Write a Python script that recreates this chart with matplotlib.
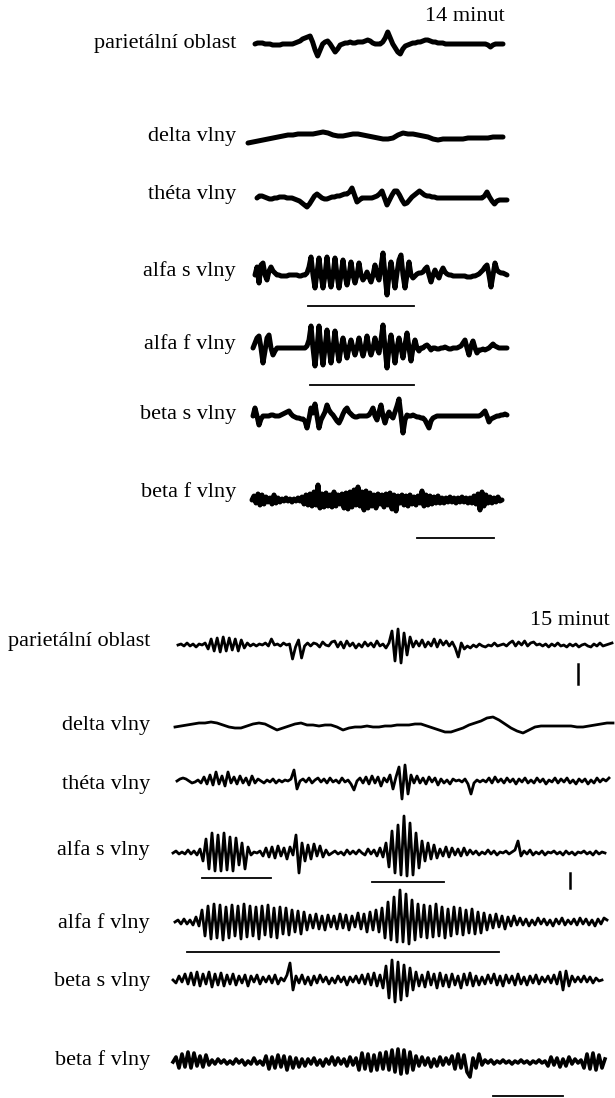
import numpy as np
import matplotlib
matplotlib.use("Agg")
import matplotlib.pyplot as plt

# traces, values in pixels above the baseline,
# samples evenly spaced along each trace

# ---- 14 minut ----
top_parietal = [0, 1, 1, 1, 0, 0, 0, -1, -1, -1, -1, 0, 0, 0, 0, 0, 1, 2, 3, 5,
                6, 7, 8, 2, -6, -12, -6, 0, 2, 3, 0, -4, -8, -5, -1, 0, 1, 1, 2, 1,
                1, 2, 2, 2, 3, 4, 3, 1, 0, 0, 0, 2, 6, 12, 6, 0, -4, -8, -10, -5,
                -2, -1, 0, 1, 1, 2, 2, 3, 4, 4, 3, 2, 2, 1, 1, 1, 0, 0, 0, 0,
                0, 0, 0, 0, 0, 0, 0, 0, 0, 0, 0, 0, 0, -1, -3, -1, 0, 0, 0, 0]
top_delta = [-6, -5, -4, -3, -2, -1, 0, 1, 2, 2, 3, 3, 3, 3, 4, 5, 4, 2, 1, 1,
             2, 3, 3, 2, 1, 0, -1, -2, -2, -1, 2, 4, 3, 3, 2, 1, 0, -2, -3, -2,
             -2, -2, -2, -2, -1, -1, -1, -1, -1, 0, 0, 0]
top_theta = [0, 2, 2, 1, 0, -1, -1, 0, 0, 1,
             1, 1, 0, 0, 0, -1, -2, -3, -5, -7,
             -9, -6, -2, 2, 4, 2, 0, -1, -1, 0,
             1, 1, 2, 2, 3, 4, 4, 6, 10, 3,
             -4, -2, 0, 0, 0, 0, 0, 1, 2, 4,
             7, 0, -7, -2, 3, 7, 7, 3, -2, -6,
             -5, -2, 1, 3, 5, 7, 5, 3, 2, 2,
             1, 1, 0, 0, 0, 0, 0, 0, 0, 0,
             0, 0, 0, 0, 0, 0, 0, 0, 0, 0,
             0, 2, 6, 1, -3, -6, -3, -2, -2, -2, -2]
top_alfa_s = [0, 8, -8, 10, 12, 0, -5, 4, 8, 4, 2,
              0, 0, -1, -1, -1, -1, 0, 0, 0, 0, 0, -1, -1, 0, 0, 2,
              8, 18, 0, -13, 2, 17, 0, -13, 0, 18, 0, -12, 0, 17, 0, -13, 0, 15,
              0, -10, 0, 13, 0, -8, 0, 12, 0, -5, -2, 3, -2, -7, 0, 10, 0, -5,
              8, 22, 0, -20, 0, 13, 0, -13, 2, 15, 20, 0, -13, 0, 13, 0, -3,
              -1, 1, 2, 2, 3, 6, 8, 0, -7, 0, 5, 0, -3, 3, 7, 3,
              1, 0, 0, -1, -1, -1, -1, -1, -1, -1, -2, -2, -2, -1, -1, 0, 1,
              3, 5, 8, 10, 0, -12, 0, 12, 5, 3, 2, 2, 1, 0]
top_alfa_f = [0, 5, 10, 12, 0, -15, -3, 10, 13, 0, -7, -3,
              0, 0, 0, 0, 0, 0, 0, 0, 0, 0, 0, 0, 0, 0, 0, 2, 8,
              22, 0, -18, 0, 22, 0, -17, 0, 18, 0, -15, 0, 17, 0, -13, 0, 10,
              0, -10, 0, 8, 0, -7, 0, 10, 0, -8, 0, 12, 0, -7, 0, 10, 0, -5,
              8, 23, 0, -20, 0, 13, 0, -15, 0, 10, 0, -10, 3, 15, 0, -13, 0,
              8, 0, -3, 0, 0, 2, 3, 1, -2,
              0, 0, -1, -1, 0, 0, 1, 0, -1, -1, 0, 0, 0, 1, 2,
              5, 8, 0, -7, 2, 7, 0, -5, -2, -2, -1, -2, -1, 0, 2, 4, 2, 1,
              0, 0, 0, 0, 0]
top_beta_s = [0, 8, 0, -9, -3,
              0, 0, 0, 0, 1, 1, 0, 0, 0, 1, 2, 3,
              4, 5, 2, 0, -1, -2, -2, -3, -3, -5, -12, -3, 8, 3, 12, 0, -12, -4,
              0, 4, 11, 6, 3, 1, -2, -5, -7, -3, 2, 6, 8, 4, 2, 0, -1, -1,
              0, 0, 0, 0, 0, 1, 4, 8, 0, -4, 4, 11, 0, -7, 0, 4, 0, -2, 4, 10,
              17, 0, -17, -4, 1, 0, 0, 1, 0, -1, -1, -2, -2, -4, -8, -12, -5,
              -2, -1,
              0, 0, 0, 0, 0, 0, 0, 0, 0, 0, 0, 0, 0, 0, 0, 0, 0, 0, 0, 0, 0, 0, 1,
              3, 5, 0, -6, -3, -2, -1, 0, 0, 1, 1, 2, 1]
top_beta_f = [0, 4, -3, 6, -5, 5, -4, 3, -2, 2, -4, 5, -3, 2, -2,
              1, -1, 2, -1, 1, -2, 1, -1, 2, -1,
              3, -4, 5, -5, 6, -6, 8, -5, 15, -8,
              6, -7, 7, -6, 5, -7, 8, -6, 5, -4,
              6, -8, 7, -9, 8, -7, 10, -5, 13, -6,
              8, -10, 9, -8, 7, -6, 5, -8, 6, -4,
              5, -7, 6, -5, 7, -9, 5, -11, 4, -3,
              5, -5, 4, -6, 5, -4, 3, -5, 4, -3,
              9, -6, 5, -5, 4, -4, 3, -3, 4, -3,
              2, -3, 2, -2, 3, -2, 2, -3, 2, -2,
              3, -2, 2, -3, 2, -3, 4, -4, 6, -10,
              8, -6, 5, -3, 3, -3, 2, -2, 3, -1, 0]

# ---- 15 minut ----
bot_parietal = [0, 1, -1, 2, -1, 1, -2, 1, 0, 2,
                -4, 6, -6, 7, -7, 8, -6, 7, -5, 6, -6, 5, -3, 2, -1,
                1, -1, 1, 0, 2, -1,
                6, 0, 1, -1, 2, 0, 1,
                -14, -2, 5, -13, -1,
                2, -1, 2, 1, -2, 3, 0, -1, 3,
                4, -2, 3, -3, 4, -1, 2,
                -3, 1, -2, 3, -1, 2, -2, 4, -1, 1, -3, 2,
                14, -16, 16, -18, 12, -10, 8,
                -2, 4, -1, 5, -2, 3, -1, 6, -2, 5, 0, 4, -1, 3,
                -3, -12, 2, -4,
                -1, -3, 0, -2, 1, -1, -2, 0, -1, 2, -1, 0, 1, -1, 2,
                4, -1, 3, 0, 4, -1, 2, 3, 0, 1, -1,
                1, -2, 1, -1, 2, -1, 0, -2, 1, -1, 1, -2, 0, 1, -1, -2, 1, -1, 2,
                -1, 0, 1, 2]
bot_delta = [-2, -1, 0, 1, 2, 2, 3, 2, 0, -2, -3, -3, -1, 1, 2, 1, -2, -5, -3, -1,
             1, 2, 0, 0, -1, 0, 0, -2, -5, -3, -2, -2, -1, -2, -2, -1, -1, 0, 0, 0,
             1, 1, -1, -3, -5, -7, -7, -5, -3, 0, 2, 4, 7, 8, 5, 1, -3, -6, -8, -5,
             -2, -1, -1, -1, -1, -1, -1, -2, -2, -1, 0, 1, 2, 2]
bot_theta = [0, 2, 3, 2, 0, -2, -1, 1,
             -2, 4, -3, 6, -4, 9, -3, 5, -5, 9, -2, 4, -3, 5, -2, 3, -4, 5, -2, 2,
             0, -2, 1, -1, 2, -2, 1, -1, 1, 0, 2,
             11, -8, 0,
             2, -1, 3, -2, 1, 3, -1, 2, -2, 3, -1, 1, -2, 3, -1, 1, -3,
             -9, 0,
             3, -2, 4, -3, 5, -2, 4, -5, 3, -1,
             6, -8, 4, 14, -18, 16, -13, 6, -2, 5,
             -2, 3, -3, 4, -1, 3, -4, 2, -2, 1, -3, 2, 0, 1, -1, 2, -3,
             -13, -2, 1,
             -1, 1, -1, 3, -2, 4,
             -1, 2, -2, 3, -1, 2, -3, 2, -1, 3, -2, 1, -2, 3, -1, 2, -3, 1, -1,
             3, -2, 2, -1, 3, -2, 1, -3, 2, -1, 2, -3, 1, -2, 3, -1, 2, 0, 3]
bot_alfa_s = [0, 2, -1, 1, -1, 3, -1, 2, -2, 4,
              -8, 14, -16, 20, -18, 18, -18, 20, -17, 16, -18, 15, -12, 10, -16, 6,
              -2, 1, 0, 2,
              -3, 5, -4, 6, -5, 7, -3, 5, -6, 6, -2,
              18, -20, 10, -8,
              8, -6, 9, -3, 7, -4, 3, -2,
              0, 2, -1, 1, -2, 3, -1, 2, -1, 3, 0,
              -2, 4, -1, 3, -3, 5, -4,
              10, -14, 22, -20, 28, -22, 37, -23, 30, -22, 20, -15,
              12, -8, 10, -6, 8, -5, 4,
              -3, 6, -4, 5, -2, 4, -3, 5, -2, 3,
              -1, 2, -2, 1, -1, 3, -1, 2, -2, 1, 0, 2, -1, 1, 3, 12,
              -3, 2, -1, 3, -2, 1, -1, 2, -2, 1, 0, 2, -1, 1, -2, 2, -1, 1, -2, 1,
              0, 2, -1, 1, -2, 2, -1, 1, 0]
bot_alfa_f = [0, 2, -2, 3, -2, 2, -3, 5, -4,
              12, -14, 16, -17, 18, -16, 17, -18, 15, -16, 17, -14, 16, -17, 18, -15,
              16, -14, 15, -17, 16, -13, 17, -15, 14, -16, 15, -12, 14, -13, 12, -10,
              11, -12, 10, -8, 7,
              -6, 8, -7, 6, -8, 7, -5, 6, -7, 8, -6, 7, -8, 6, -5, 9, -7, 8, -10, 10,
              -8, 12, -10, 14,
              -16, 20, -18, 25, -20, 32, -20, 28, -22, 22, -18, 18,
              -15, 17, -16, 16, -15, 18, -14, 15, -16, 13, -14, 15, -12, 14, -13, 12,
              -11, 13, -12, 10, -11, 9,
              -8, 7, -6, 8, -5, 6, -7, 5, -4, 6, -3,
              4, -3, 3, -4, 2, -3, 4, -2, 3, -3, 2, -4, 3, -2, 4, -3, 2, -2, 3, -3,
              4, -2, 3, -3, 2, -4, 3, -2, 4, 2]
bot_beta_s = [0, -3, 4, -2, 6, -4, 7, -5, 8, -6, 6, -4, 8, -7, 6, -5, 7, -6, 5, -4,
              6, -5, 4, -3, 5, -6, 4, -2, 5, -4, 3, -2, 4, -3, 5, -4, 2,
              -1, 5, 17, -10, 4, -3,
              5, -4, 3, -5, 4, -3, 5, -2, 3, -4, 2, -3, 4, -2, 3, -5, 3, -2, 4, -3,
              5, -4, 6, -5, 7, -6, 5,
              -8, 14, -18, 20, -22, 18, -20, 15, -16, 12, -10,
              8, -6, 5, -7, 8, -5, 6, -8, 7, -6, 5, -7, 6, -5, 4, -8, 6, -5, 7, -6,
              4, -5, 3,
              -4, 5, -3, 6, -5, 4, -6, 5, -3, 4, -5, 6, -4, 3, -5, 4, -3, 5, -4, 3,
              -2, 4, -3, 5, -4,
              8, -10, 9, -6, 4, -2, 3, -2, 4, -2, 3, -3, 2, -1, 0]
bot_beta_f = [0, 5, -6, 8, -5, 10, -6, 9, -4, 6, -5, 7, -3,
              2, -2, 3, -1, 2, -2, 1, -2, 3, -1, 2, -3, 1, -2, 4, -2, 1, -3,
              6, -7, 5, -6, 7, -5, 6, -8, 5, -6, 4, -5, 3,
              -4, 3, -2, 4, -3, 2, -4, 3, -2, 5, -3, 4, -2, 3, -4, 5, -3, 4,
              -8, 9, -7, 8, -9, 7, -8, 9, -7, 10, -8,
              12, -10, 13, -12, 12, -11, 10, -8, 6,
              -4, 5, -3, 4, -5, 3, -4, 5, -3, 4, -2,
              6, -7, 8, -6, 7, -10, -15, 4, -6, 8, -3,
              2, -1, 2, -2, 1, -1, 2, -1, 1, -2, 1, -1, 2, -1, 1, -2, 1, -1, 2, -1, 1,
              -4, 5, -3, 4, -5, 3, -4, 5, -2, 3, -1,
              2, -6, 8, -7, 9, -8, 7, -6, 3]

labels = ["parietální oblast", "delta vlny", "théta vlny", "alfa s vlny",
          "alfa f vlny", "beta s vlny", "beta f vlny"]
top_traces = [top_parietal, top_delta, top_theta, top_alfa_s,
              top_alfa_f, top_beta_s, top_beta_f]
bot_traces = [bot_parietal, bot_delta, bot_theta, bot_alfa_s,
              bot_alfa_f, bot_beta_s, bot_beta_f]

# layout in pixels: (x start, x end, baseline) of every trace, label baselines
top_pos = [(255, 503, 44), (248, 503, 137), (257, 507, 198), (255, 507, 275),
           (253, 507, 348), (253, 507, 416), (252, 502, 500)]
top_lab_y = [48, 141, 199, 276, 349, 419, 497]
bot_pos = [(178, 612, 645), (175, 613, 725), (177, 609, 781), (173, 605, 853),
           (175, 607, 922), (173, 602, 980), (173, 605, 1062)]
bot_lab_y = [646, 730, 789, 855, 928, 986, 1065]

plt.rcParams["font.family"] = ["Liberation Serif", "DejaVu Serif"]

fig = plt.figure(figsize=(6.15, 10.98), dpi=100)
ax = fig.add_axes([0, 0, 1, 1])
ax.set_xlim(0, 615)
ax.set_ylim(1098, 0)
ax.axis("off")

# upper panel: thick pen traces
for vals, (x0, x1, y0) in zip(top_traces, top_pos):
    xs = np.linspace(x0, x1, len(vals))
    ax.plot(xs, y0 - np.array(vals), color="black", lw=3.6,
            solid_joinstyle="round", solid_capstyle="round")
for lab, y in zip(labels, top_lab_y):
    ax.text(236, y, lab, ha="right", va="baseline", fontsize=16)
ax.text(505, 21, "14 minut", ha="right", va="baseline", fontsize=16)

# lower panel: thinner traces
for vals, (x0, x1, y0) in zip(bot_traces, bot_pos):
    xs = np.linspace(x0, x1, len(vals))
    lw = 2.6 if vals is bot_beta_f else 2.0
    ax.plot(xs, y0 - np.array(vals), color="black", lw=lw,
            solid_joinstyle="round")
for lab, y in zip(labels, bot_lab_y):
    ax.text(150, y, lab, ha="right", va="baseline", fontsize=16)
ax.text(610, 625, "15 minut", ha="right", va="baseline", fontsize=16)

# underlines and markers
segs = [((308, 414), (306, 306)), ((310, 414), (385, 385)), ((417, 494), (538, 538)),
        ((202, 271), (878, 878)), ((372, 444), (882, 882)), ((187, 499), (952, 952)),
        ((493, 563), (1096, 1096))]
for xx, yy in segs:
    ax.plot(xx, yy, color="black", lw=1.3)
ax.plot((578, 578), (664, 684), color="black", lw=1.8)
ax.plot((570, 570), (873, 888), color="black", lw=1.8)

plt.savefig("out.png", dpi=100, facecolor="white")
